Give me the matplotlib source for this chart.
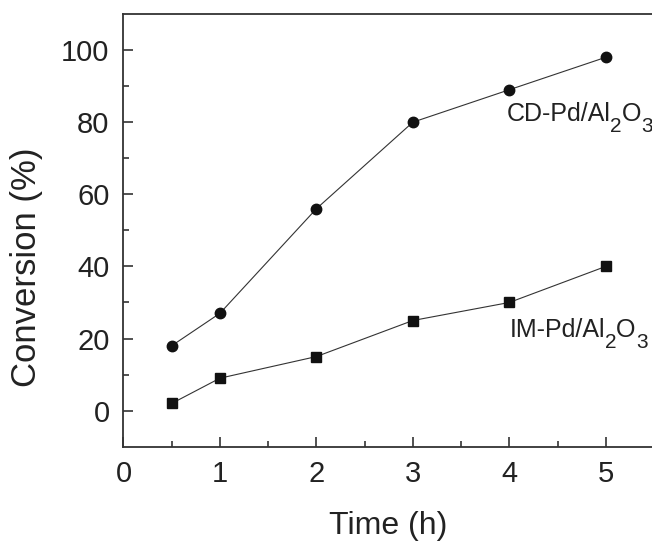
import matplotlib
matplotlib.use("Agg")
import matplotlib.pyplot as plt

# data
time_h = [0.5, 1, 2, 3, 4, 5]
conv_cd = [18, 27, 56, 80, 89, 98]
conv_im = [2, 9, 15, 25, 30, 40]

plt.rcParams["font.family"] = ["Liberation Sans", "DejaVu Sans"]

fig = plt.figure(figsize=(6.52, 5.41), dpi=100)
ax = fig.add_axes([0.1894, 0.1743, 0.8137, 0.7998])

ax.plot(time_h, conv_cd, "-o", color="#333333", lw=0.8, ms=7.5,
        mec="#111111", mfc="#111111")
ax.plot(time_h, conv_im, "-s", color="#333333", lw=0.8, ms=6.5,
        mec="#111111", mfc="#111111")


def chem_label(x, y, name):
    # name/Al2O3 with big, low subscripts like the original figure
    t = ax.text(x, y, name + "/Al", fontsize=18, color="#222222",
                va="baseline")
    parts = [("2", True), ("O", False), ("3", True)]
    for s, sub in parts:
        t = ax.annotate(s, xy=(1, 0), xycoords=t, va="bottom",
                        xytext=(0, -7 if sub else 0),
                        textcoords="offset points",
                        fontsize=15 if sub else 18, color="#222222")
        if sub:
            # next piece goes back up to the baseline
            t = ax.annotate("", xy=(1, 0), xycoords=t, xytext=(0, 7),
                            textcoords="offset points", va="bottom",
                            fontsize=18)


chem_label(3.97, 80.3, "CD-Pd")
chem_label(4.0, 20.3, "IM-Pd")

ax.set_xlim(0, 5.5)
ax.set_ylim(-10, 110)
ax.set_xticks([0, 1, 2, 3, 4, 5])
ax.set_xticks([0.5, 1.5, 2.5, 3.5, 4.5], minor=True)
ax.set_yticks([0, 20, 40, 60, 80, 100])
ax.set_yticks([10, 30, 50, 70, 90], minor=True)

for s in ax.spines.values():
    s.set_linewidth(1.3)
    s.set_color("#333333")

ax.tick_params(which="both", direction="in", top=False, right=False,
               width=1.2, color="#333333", labelsize=21, labelcolor="#222222")
ax.tick_params(which="major", length=7)
ax.tick_params(which="minor", length=4)
ax.tick_params(axis="x", pad=9.5)
ax.tick_params(axis="y", pad=10)

ax.set_xlabel("Time (h)", fontsize=23, color="#222222", va="top")
ax.set_ylabel("Conversion (%)", fontsize=25, color="#222222", va="center")
ax.xaxis.set_label_coords(0.4995, -0.149)
ax.yaxis.set_label_coords(-0.182, 0.415)

fig.savefig("out.png", dpi=100)
